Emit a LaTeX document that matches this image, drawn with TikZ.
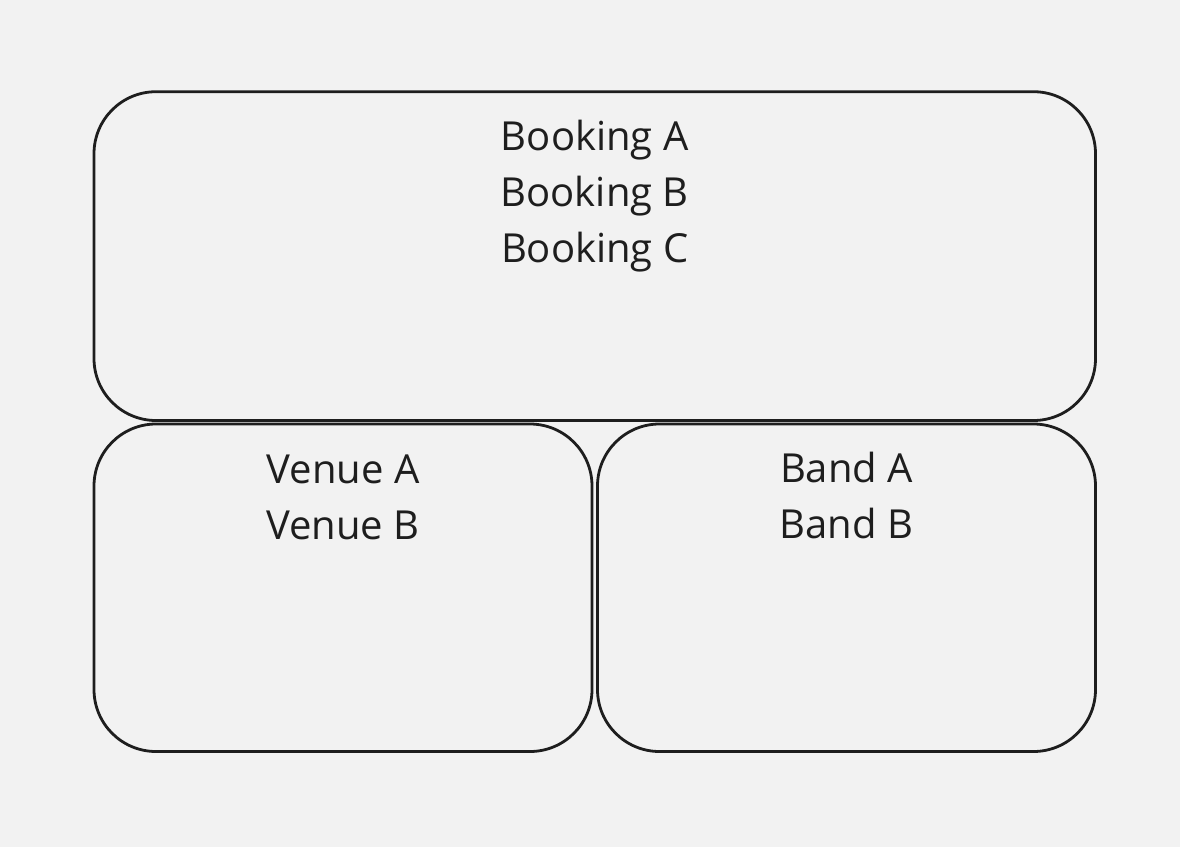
\documentclass[tikz,border=0pt]{standalone}
\usepackage{fontspec}
\setmainfont{Open Sans}
\usetikzlibrary{positioning}

\definecolor{paper}{HTML}{F2F2F2}
\definecolor{ink}{HTML}{1E1E1E}

\begin{document}
\begin{tikzpicture}[
            x = 1pt, y = -1pt, % pixel grid of the sketch
            node distance = 28pt,
            box/.style = {
                draw = ink,
                line width = 2.8pt,
                rounded corners = 62pt,
                inner sep = 0pt
            },
            names/.style = {
                text = ink,
                align = center,
                inner sep = 0pt,
                font = \fontsize{40}{56}\selectfont
            }
        ]

        % page and its margins
        \fill[paper] (0,0) rectangle (1180,847);
        \useasboundingbox (0,0) rectangle (1180,847);

        \node[box, minimum width=1001.5pt, minimum height=328.8pt] (bookings) at (594.75,256.1) {};
        \node[box, minimum width=498pt, minimum height=327.5pt] (venues) at (343,587.75) {};
        \node[box, minimum width=498pt, minimum height=327.5pt] (bands) at (846.5,587.75) {};

        \node[names, below=30pt of bookings.north] (bookinglist) {Booking A\\Booking B\\Booking C};
        \node[names, below=32pt of venues.north] (venuelist) {Venue A\\Venue B};
        \node[names, below=29.5pt of bands.north] (bandlist) {Band A\\Band B};
    \end{tikzpicture}
\end{document}
